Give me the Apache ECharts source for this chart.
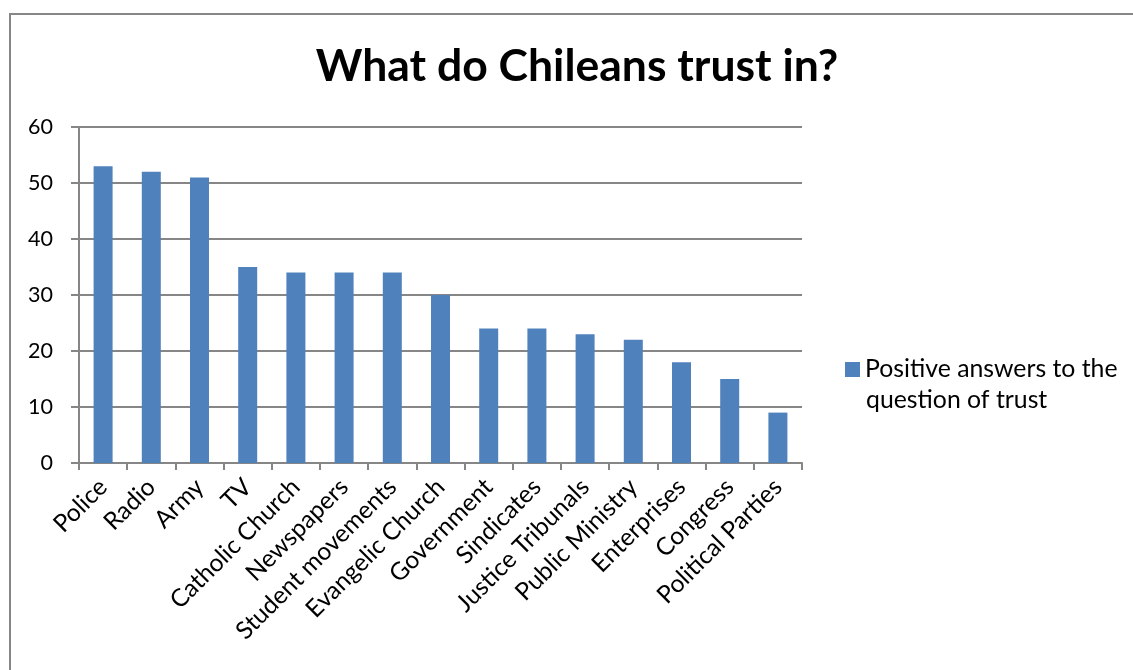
<!DOCTYPE html>
<html>
<head>
<meta charset="utf-8">
<script src="https://cdn.jsdelivr.net/npm/echarts@6/dist/echarts.min.js"></script>
<style>
  html, body { margin: 0; padding: 0; background: #fff; }
  #chart { width: 1133px; height: 670px; }
</style>
</head>
<body>
<div id="chart"></div>
<script>
const titleText = 'What do Chileans trust in?';
const seriesName = 'Positive answers to the question of trust';
const legendLines = ['Positive answers to the', 'question of trust'];
const categories = ['Police', 'Radio', 'Army', 'TV', 'Catholic Church', 'Newspapers',
  'Student movements', 'Evangelic Church', 'Government', 'Sindicates',
  'Justice Tribunals', 'Public Ministry', 'Enterprises', 'Congress', 'Political Parties'];
const values = [53, 52, 51, 35, 34, 34, 34, 30, 24, 24, 23, 22, 18, 15, 9];
const yTicks = { min: 0, max: 60, interval: 10 };

const FONT = 'Lato, "Open Sans", sans-serif';
const GREY = '#868686';
const LEGEND_SIZE = 24.8;

const chart = echarts.init(document.getElementById('chart'), null, { renderer: 'canvas' });
chart.setOption({
  animation: false,
  textStyle: { fontFamily: FONT },
  graphic: [{
    type: 'rect',
    shape: { x: 10, y: 14, width: 1200, height: 800 },
    style: { fill: 'none', stroke: GREY, lineWidth: 2 },
    silent: true, z: -1
  }, {
    // second line of the legend label, hanging under the first
    type: 'text',
    left: 866, top: 388,
    style: { text: legendLines[1], font: LEGEND_SIZE + 'px ' + FONT, fill: '#000' },
    silent: true
  }],
  title: {
    text: titleText,
    left: 572, top: 39, textAlign: 'center',
    textStyle: { fontFamily: FONT, fontWeight: 'bold', fontSize: 44.5, color: '#000' }
  },
  legend: {
    orient: 'vertical',
    left: 840, top: 351,
    itemWidth: 15, itemHeight: 15, itemGap: 6,
    formatter: () => legendLines[0],
    textStyle: { fontFamily: FONT, fontSize: LEGEND_SIZE, color: '#000', lineHeight: 27 },
    data: [{ name: seriesName, icon: 'rect' }]
  },
  grid: { left: 79, right: 331, top: 127, bottom: 207, containLabel: false },
  xAxis: {
    type: 'category',
    data: categories,
    axisLine: { lineStyle: { color: GREY, width: 2 } },
    axisTick: { show: true, length: 7, alignWithLabel: false, lineStyle: { color: GREY, width: 2 } },
    axisLabel: { rotate: 45, interval: 0, margin: 20, fontSize: 24.5, color: '#000', fontFamily: FONT }
  },
  yAxis: {
    type: 'value',
    min: yTicks.min, max: yTicks.max, interval: yTicks.interval,
    axisLine: { show: true, lineStyle: { color: GREY, width: 2 } },
    axisTick: { show: true, length: 8, lineStyle: { color: GREY, width: 2 } },
    splitLine: { lineStyle: { color: GREY, width: 2 } },
    axisLabel: { margin: 26, fontSize: 21.5, color: '#000', fontFamily: FONT }
  },
  series: [{
    name: seriesName,
    type: 'bar',
    data: values,
    barWidth: 19,
    itemStyle: { color: '#4F81BD' }
  }]
});
</script>
</body>
</html>
